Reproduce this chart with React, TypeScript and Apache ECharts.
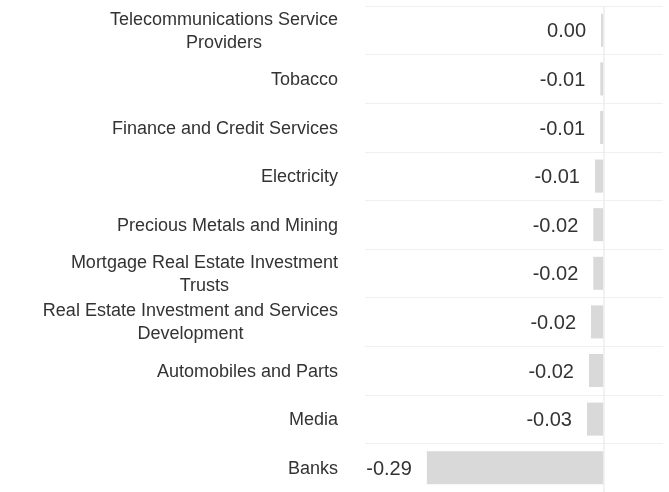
import React, { useEffect, useRef } from "react";
import * as echarts from "echarts";

const categories = [
  "Telecommunications Service Providers",
  "Tobacco",
  "Finance and Credit Services",
  "Electricity",
  "Precious Metals and Mining",
  "Mortgage Real Estate Investment Trusts",
  "Real Estate Investment and Services Development",
  "Automobiles and Parts",
  "Media",
  "Banks",
];

const values = [-0.004, -0.0052, -0.0055, -0.014, -0.0168, -0.0168, -0.0205, -0.0238, -0.0271, -0.29];

function wrap(s: string, maxChars: number): string[] {
  const words = s.split(" ");
  const lines: string[] = [];
  let cur = "";
  for (const w of words) {
    const t = cur ? cur + " " + w : w;
    if (t.length > maxChars && cur) {
      lines.push(cur);
      cur = w;
    } else {
      cur = t;
    }
  }
  if (cur) lines.push(cur);
  return lines;
}

export default function App() {
  const ref = useRef<HTMLDivElement>(null);
  useEffect(() => {
    if (!ref.current) return;
    const chart = echarts.init(ref.current, undefined, { renderer: "svg" });
    chart.setOption({
      animation: false,
      grid: { left: 365, top: 6, width: 298, height: 492, containLabel: false },
      xAxis: {
        type: "value",
        min: -0.3916,
        max: 0.0977,
        show: false,
      },
      yAxis: {
        type: "category",
        inverse: true,
        data: categories,
        axisLine: { show: false },
        axisTick: { show: false },
        splitLine: { show: true, lineStyle: { color: "#f0f0f0", width: 1 } },
        axisLabel: {
          margin: 27,
          align: "right",
          formatter: (v: string) =>
            wrap(v, 35)
              .map((l) => `{c|${l}}`)
              .join("\n"),
          rich: {
            c: {
              align: "center",
              fontFamily: "Liberation Sans, Arial, sans-serif",
              fontSize: 18,
              color: "#333333",
              lineHeight: 23,
            },
          },
        },
      },
      series: [
        {
          type: "bar",
          data: values,
          barWidth: "68%",
          itemStyle: { color: "#d9d9d9" },
          label: {
            show: true,
            position: "left",
            distance: 15,
            fontFamily: "Liberation Sans, Arial, sans-serif",
            fontSize: 20,
            color: "#333333",
            formatter: (p: any) => (+Number(p.value).toFixed(2)).toFixed(2),
          },
          markLine: {
            silent: true,
            symbol: "none",
            label: { show: false },
            lineStyle: { color: "#eeeeee", type: "solid", width: 1.5 },
            data: [{ xAxis: 0 }],
          },
        },
      ],
    });
    return () => chart.dispose();
  }, []);
  return (
    <div
      ref={ref}
      style={{ position: "fixed", left: 0, top: 0, width: 669, height: 492 }}
    />
  );
}
